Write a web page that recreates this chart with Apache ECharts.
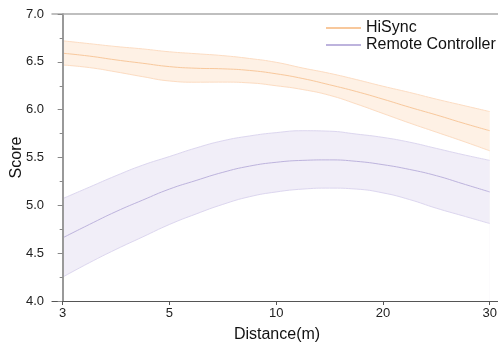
<!DOCTYPE html>
<html>
<head>
<meta charset="utf-8">
<script src="https://cdn.jsdelivr.net/npm/echarts@6/dist/echarts.min.js"></script>
<style>
  html, body { margin: 0; padding: 0; background: #fff; }
  #chart { width: 498px; height: 348px; }
</style>
</head>
<body>
<div id="chart"></div>
<script>
// distance categories, drawn evenly spaced (index 0..4)
const distLabels = ['3', '5', '10', '20', '30'];
// sample positions along the axis (index units)
const xs = [0, 0.25, 0.5, 0.75, 1, 1.25, 1.5, 1.75, 2, 2.25, 2.5, 2.75, 3, 3.25, 3.5, 3.75, 4];

const hiMean  = [6.59, 6.56, 6.52, 6.485, 6.45, 6.433, 6.427, 6.41, 6.375, 6.325, 6.26, 6.19, 6.11, 6.025, 5.945, 5.86, 5.78];
const hiUpper = [6.72, 6.69, 6.66, 6.635, 6.605, 6.585, 6.565, 6.535, 6.495, 6.435, 6.38, 6.315, 6.245, 6.18, 6.11, 6.045, 5.98];
const hiLower = [6.467, 6.44, 6.395, 6.345, 6.30, 6.287, 6.288, 6.28, 6.25, 6.21, 6.15, 6.06, 5.96, 5.86, 5.765, 5.67, 5.57];

const rcMean  = [4.66, 4.80, 4.935, 5.055, 5.17, 5.26, 5.345, 5.41, 5.45, 5.47, 5.475, 5.46, 5.425, 5.375, 5.31, 5.225, 5.14];
const rcUpper = [5.07, 5.19, 5.31, 5.42, 5.51, 5.60, 5.675, 5.725, 5.76, 5.78, 5.775, 5.745, 5.71, 5.66, 5.595, 5.53, 5.47];
const rcLower = [4.25, 4.40, 4.54, 4.67, 4.80, 4.91, 5.01, 5.09, 5.14, 5.17, 5.18, 5.17, 5.13, 5.06, 4.97, 4.89, 4.81];

const font = 'Liberation Sans, Arial, sans-serif';
const smooth = 0.5;

function pts(vals) {
  return xs.map((x, i) => [x, vals[i]]);
}

// band = upper edge filled down to the axis, then lower edge filled white on top.
// HiSync band lies wholly above the remote band, so draw it first.
function band(id, up, lo, edge, fill, z) {
  return [
    {
      name: id + '-up', type: 'line', smooth: smooth, symbol: 'none', silent: true, z: z,
      lineStyle: { width: 1, color: edge },
      areaStyle: { color: fill, opacity: 1, origin: 'start' },
      data: pts(up)
    },
    {
      name: id + '-lo', type: 'line', smooth: smooth, symbol: 'none', silent: true, z: z,
      lineStyle: { width: 1, color: edge },
      areaStyle: { color: '#fff', opacity: 1, origin: 'start' },
      data: pts(lo)
    }
  ];
}

const chart = echarts.init(document.getElementById('chart'));

chart.setOption({
  animation: false,
  grid: { left: 52, right: -4, top: 14, bottom: 47, outerBoundsMode: 'none' },
  legend: {
    orient: 'vertical',
    left: 326,
    top: 20,
    padding: 0,
    itemWidth: 35,
    itemHeight: 2,
    itemGap: 1,
    icon: 'rect',
    data: ['HiSync', 'Remote Controller'],
    textStyle: { fontFamily: font, fontSize: 16, color: '#111' }
  },
  xAxis: [
    {
      type: 'value',
      min: -0.1,
      max: 4.115,
      z: 10,
      name: 'Distance(m)',
      nameLocation: 'middle',
      nameGap: 26,
      nameMoveOverlap: false,
      nameTextStyle: { fontFamily: font, fontSize: 16, color: '#111' },
      axisLine: { lineStyle: { color: '#555', width: 1.2 } },
      axisTick: { show: true, length: 4, customValues: [0, 1, 2, 3, 4], lineStyle: { color: '#555' } },
      axisLabel: {
        customValues: [0, 1, 2, 3, 4],
        formatter: v => distLabels[Math.round(v)],
        fontFamily: font, fontSize: 13, color: '#222', margin: 6
      },
      splitLine: { show: false }
    },
    {
      type: 'value',
      position: 'top',
      min: -0.1,
      max: 4.115,
      z: 10,
      axisLine: { show: true, lineStyle: { color: '#aaa', width: 1.5 } },
      axisTick: { show: false },
      axisLabel: { show: false },
      splitLine: { show: false }
    }
  ],
  yAxis: {
    type: 'value',
    min: 4,
    max: 7,
    interval: 0.5,
    z: 10,
    name: 'Score',
    nameLocation: 'middle',
    nameGap: 27,
    nameMoveOverlap: false,
    nameTextStyle: { fontFamily: font, fontSize: 16, color: '#111' },
    axisLine: { show: true, lineStyle: { color: '#999', width: 2 } },
    axisTick: { show: true, length: 5, lineStyle: { color: '#888' } },
    minorTick: { show: true, splitNumber: 2, length: 3, lineStyle: { color: '#888' } },
    axisLabel: {
      formatter: v => v.toFixed(1),
      fontFamily: font, fontSize: 13, color: '#222', margin: 8
    },
    splitLine: { show: false }
  },
  series: [
    ...band('hi', hiUpper, hiLower, '#fcdcc2', '#fef1e5', 1),
    ...band('rc', rcUpper, rcLower, '#dcd6ef', '#f1eef8', 2),
    {
      name: 'HiSync', type: 'line', smooth: smooth, symbol: 'none', z: 3,
      lineStyle: { width: 1, color: '#f8c89c' }, itemStyle: { color: '#f8c89c' },
      data: pts(hiMean)
    },
    {
      name: 'Remote Controller', type: 'line', smooth: smooth, symbol: 'none', z: 3,
      lineStyle: { width: 1, color: '#bdb3dd' }, itemStyle: { color: '#bdb3dd' },
      data: pts(rcMean)
    }
  ]
});
</script>
</body>
</html>
